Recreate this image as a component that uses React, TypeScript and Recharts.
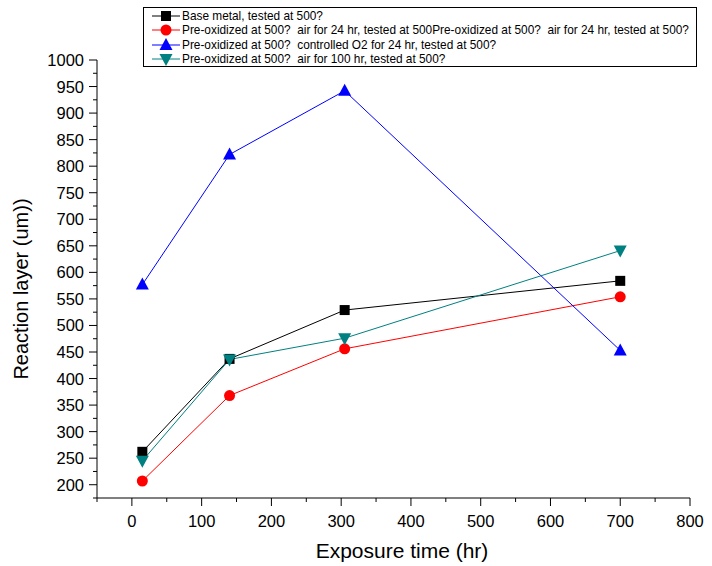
import { LineChart, Line, XAxis, YAxis } from "recharts";

// exposure times (hr)
const exposureTimes = [15, 140, 305, 700];

// reaction layer thickness (um)
const baseMetal = [262, 437, 529, 584];
const preAir24 = [207, 368, 456, 554];
const preO2 = [577, 822, 942, 453];
const preAir100 = [245, 436, 476, 641];

const seriesNames = [
  "Base metal, tested at 500?",
  "Pre-oxidized at 500?  air for 24 hr, tested at 500Pre-oxidized at 500?  air for 24 hr, tested at 500?",
  "Pre-oxidized at 500?  controlled O2 for 24 hr, tested at 500?",
  "Pre-oxidized at 500?  air for 100 hr, tested at 500?",
];

const xTicks = [-50, 0, 50, 100, 150, 200, 250, 300, 350, 400, 450, 500, 550, 600, 650, 700, 750, 800];
const xLabelled = [0, 100, 200, 300, 400, 500, 600, 700, 800];
const yTicks = [
  175, 200, 225, 250, 275, 300, 325, 350, 375, 400, 425, 450, 475, 500, 525, 550, 575, 600,
  625, 650, 675, 700, 725, 750, 775, 800, 825, 850, 875, 900, 925, 950, 975, 1000,
];
const yLabelled = [200, 250, 300, 350, 400, 450, 500, 550, 600, 650, 700, 750, 800, 850, 900, 950, 1000];

const data = exposureTimes.map((t, i) => ({
  t,
  base: baseMetal[i],
  air24: preAir24[i],
  o2: preO2[i],
  air100: preAir100[i],
}));

const FONT = "'Liberation Sans', Arial, sans-serif";

function Marker({ cx, cy, shape, color }: any) {
  if (cx == null || cy == null) return null;
  if (shape === "square")
    return <rect x={cx - 5} y={cy - 5} width={10} height={10} fill={color} />;
  if (shape === "circle") return <circle cx={cx} cy={cy} r={5.5} fill={color} />;
  if (shape === "up")
    return (
      <polygon
        points={`${cx},${cy - 7} ${cx - 6.5},${cy + 5} ${cx + 6.5},${cy + 5}`}
        fill={color}
      />
    );
  return (
    <polygon
      points={`${cx},${cy + 7} ${cx - 6.5},${cy - 5} ${cx + 6.5},${cy - 5}`}
      fill={color}
    />
  );
}

const series = [
  { key: "base", color: "#000000", shape: "square" },
  { key: "air24", color: "#ff0000", shape: "circle" },
  { key: "o2", color: "#0000ff", shape: "up" },
  { key: "air100", color: "#008080", shape: "down" },
];

function XTick({ x, y, payload }: any) {
  const major = xLabelled.includes(payload.value);
  return (
    <g>
      <line x1={x} y1={y} x2={x} y2={y + (major ? 8 : 4)} stroke="#000" />
      {major && (
        <text x={x} y={y + 29} textAnchor="middle" fontSize={16.5} fontFamily={FONT} fill="#000">
          {payload.value}
        </text>
      )}
    </g>
  );
}

function YTick({ x, y, payload }: any) {
  const major = yLabelled.includes(payload.value);
  return (
    <g>
      <line x1={x} y1={y} x2={x - (major ? 8 : 4)} y2={y} stroke="#000" />
      {major && (
        <text x={x - 13} y={y + 6} textAnchor="end" fontSize={16.5} fontFamily={FONT} fill="#000">
          {payload.value}
        </text>
      )}
    </g>
  );
}

function LegendBox() {
  return (
    <div
      style={{
        position: "absolute",
        left: 143,
        top: 7,
        width: 554,
        height: 60,
        border: "1px solid #000",
        background: "#fff",
        boxSizing: "border-box",
        paddingTop: 1,
      }}
    >
      {series.map((s, i) => (
        <div key={s.key} style={{ display: "flex", alignItems: "center", height: 14.3 }}>
          <svg width={38} height={14} style={{ overflow: "visible", flexShrink: 0 }}>
            <line x1={8} y1={7} x2={36} y2={7} stroke={s.color} />
            <Marker cx={22} cy={7} shape={s.shape} color={s.color} />
          </svg>
          <span style={{ fontFamily: FONT, fontSize: 11.85, color: "#000", whiteSpace: "pre" }}>
            {seriesNames[i]}
          </span>
        </div>
      ))}
    </div>
  );
}

export default function App() {
  return (
    <div style={{ position: "absolute", left: 0, top: 0, width: 712, height: 566, background: "#fff" }}>
      <LineChart
        width={712}
        height={566}
        data={data}
        margin={{ top: 60, right: 22, bottom: 0, left: 37 }}
      >
        <XAxis
          dataKey="t"
          type="number"
          domain={[-50, 800]}
          ticks={xTicks}
          interval={0}
          height={68}
          tickSize={0}
          tickMargin={0}
          tickLine={false}
          axisLine={{ stroke: "#000" }}
          tick={<XTick />}
          label={{
            content: () => (
              <text x={402} y={558} textAnchor="middle" fontSize={21} fontFamily={FONT} fill="#000">
                Exposure time (hr)
              </text>
            ),
          }}
        />
        <YAxis
          type="number"
          domain={[175, 1000]}
          ticks={yTicks}
          interval={0}
          width={60}
          tickSize={0}
          tickMargin={0}
          tickLine={false}
          axisLine={{ stroke: "#000" }}
          tick={<YTick />}
          label={{
            content: () => (
              <text
                x={28}
                y={289}
                transform="rotate(-90 28 289)"
                textAnchor="middle"
                fontSize={20}
                fontFamily={FONT}
                fill="#000"
              >
                Reaction layer (um))
              </text>
            ),
          }}
        />
        {series.map((s) => (
          <Line
            key={s.key}
            dataKey={s.key}
            stroke={s.color}
            strokeWidth={1}
            isAnimationActive={false}
            dot={(p: any) => <Marker key={`${s.key}-${p.index}`} cx={p.cx} cy={p.cy} shape={s.shape} color={s.color} />}
            activeDot={false}
          />
        ))}
      </LineChart>
      <LegendBox />
    </div>
  );
}
